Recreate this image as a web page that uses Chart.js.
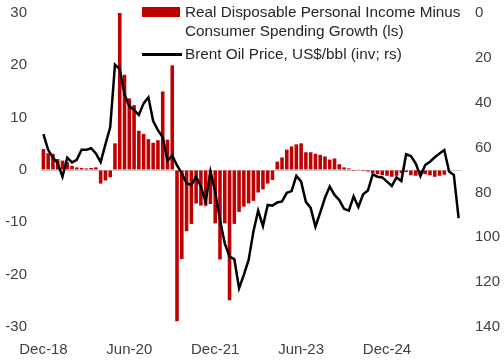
<!DOCTYPE html>
<html>
<head>
<meta charset="utf-8">
<script src="https://cdn.jsdelivr.net/npm/chart.js@4"></script>
<style>
  body { margin: 0; background: #fff; }
  .wrap { position: relative; width: 504px; height: 360px; font-family: "Liberation Sans", Arial, sans-serif; color: #262626; }
  .leg { position: absolute; left: 185px; font-size: 15.3px; line-height: 18.5px; white-space: nowrap; }
  .swatch { position: absolute; left: 142px; }
</style>
</head>
<body>
<div class="wrap">
  <canvas id="myChart" width="504" height="360"></canvas>
  <div class="swatch" style="top:7px;width:38px;height:10px;background:#C00000"></div>
  <div class="leg" id="leg1" style="top:3px"></div>
  <div class="swatch" style="top:53px;width:40px;height:2.5px;background:#000"></div>
  <div class="leg" id="leg2" style="top:45px"></div>
</div>
<script>
// monthly data, Dec-18 onward
const startYear = 2018, startMonth = 11;
const monthNames = ['Jan','Feb','Mar','Apr','May','Jun','Jul','Aug','Sep','Oct','Nov','Dec'];
const tickLabels = ['Dec-18', 'Jun-20', 'Dec-21', 'Jun-23', 'Dec-24'];

// real disposable income minus consumer spending growth (ls)
const incomeGap = [
  4.0, 3.2, 3.1, 2.1, 1.8, 1.5, 0.8, 0.5, 0.4, 0.3, 0.4, 0.5,
  -2.6, -2.0, -1.4, 5.1, 30, 18.2, 13.7, 12.4, 7.5, 6.9, 5.9, 5.2,
  5.7, 15, 5.8, 20, -28.9, -17, -11.7, -10.3, -6.4, -6.8, -6.8, -6.5,
  -10.2, -17.1, -10.2, -24.9, -10.3, -8.0, -7.0, -6.4, -5.9, -4.3, -3.7, -2.6,
  -1.9, 1.6, 2.4, 3.9, 4.5, 4.9, 5.1, 3.4, 3.4, 3.1, 2.9, 2.6,
  2.0, 2.2, 1.1, 0.5, 0.3, -0.2, 0.05, -0.2, -0.3, -0.6, -0.8, -1.0,
  -1.1, -1.3, -1.1, -0.6, -0.4, -1.0, -1.1, -1.1, -0.8, -1.0, -1.3, -1.1,
  -0.9
];

// brent oil price, US$/bbl (inverted, rs)
const oilPrice = [
  54, 61, 64.5, 67, 73, 64.5, 66.6, 65.5, 61, 61, 60.3, 62.6,
  66.5, 58.5, 51, 23, 25, 36.3, 41.6, 43.2, 45.5, 40.3, 37.6, 48.2,
  52.2, 55.4, 66, 63.5, 68, 71.5, 75.9, 76.7, 73, 77.4, 84.1, 70.7,
  79.7, 92.3, 102.7, 108.6, 109.7, 122.7, 116.8, 110.1, 97.5, 88.1, 95, 85.6,
  85.9, 84.5, 84, 80.2, 79.4, 72.6, 75.2, 84.2, 86.9, 95.3, 89, 82.4,
  77.4, 81.1, 83.4, 87.3, 88.1, 81.8, 86.5, 80.8, 79.1, 72, 73, 73.3,
  75.2, 77.1, 73.3, 74.9, 63, 63.8, 67, 72.7, 67.8, 66.3, 64.3, 62.6,
  61.1, 70.7, 72.2, 91.5
];

const barLabel = 'Real Disposable Personal Income Minus\nConsumer Spending Growth (ls)';
const lineLabel = 'Brent Oil Price, US$/bbl (inv; rs)';

const labels = [];
for (let i = 0; i < oilPrice.length; i++) {
  const m = (startMonth + i) % 12;
  const y = startYear + Math.floor((startMonth + i) / 12);
  labels.push(monthNames[m] + '-' + String(y).slice(2));
}

document.getElementById('leg1').innerHTML = barLabel.replace('\n', '<br>');
document.getElementById('leg2').textContent = lineLabel;

const tickFont = { family: '"Liberation Sans", Arial, sans-serif', size: 15 };

// fixed axis box sizes so the plot area lines up
function fitY(width) {
  return (s) => { s.width = width; s.paddingTop = 13; s.paddingBottom = 9; };
}

var ctx = document.getElementById('myChart').getContext('2d');
var myChart = new Chart(ctx, {
  data: {
    labels: labels,
    datasets: [
      {
        type: 'line',
        label: lineLabel,
        data: oilPrice,
        yAxisID: 'y2',
        borderColor: '#000',
        borderWidth: 2.5,
        pointRadius: 0,
        tension: 0,
        order: 0
      },
      {
        type: 'bar',
        label: barLabel,
        data: incomeGap,
        yAxisID: 'y',
        backgroundColor: '#C00000',
        barPercentage: 0.75,
        categoryPercentage: 1,
        order: 1
      }
    ]
  },
  options: {
    responsive: false,
    animation: false,
    devicePixelRatio: 1,
    layout: { padding: 0 },
    plugins: { legend: { display: false }, tooltip: { enabled: false } },
    scales: {
      x: {
        offset: true,
        grid: { display: false },
        border: { display: false },
        afterFit: (s) => { s.height = 33; },
        ticks: {
          autoSkip: false,
          maxRotation: 0,
          padding: 6,
          color: '#404040',
          font: tickFont,
          callback: (v, i) => tickLabels.includes(labels[i]) ? labels[i] : null
        }
      },
      y: {
        position: 'left',
        min: -30, max: 30,
        border: { display: false },
        grid: {
          drawTicks: false,
          lineWidth: 1,
          color: (c) => c.tick && c.tick.value === 0 ? '#c8c8c8' : 'rgba(0,0,0,0)'
        },
        afterFit: fitY(41),
        ticks: { stepSize: 10, padding: 14, color: '#404040', font: tickFont }
      },
      y2: {
        position: 'right',
        min: 0, max: 140,
        reverse: true,
        border: { display: false },
        grid: { display: false, drawTicks: false },
        afterFit: fitY(43),
        ticks: { stepSize: 20, padding: 14, color: '#404040', font: tickFont }
      }
    }
  }
});
</script>
</body>
</html>
